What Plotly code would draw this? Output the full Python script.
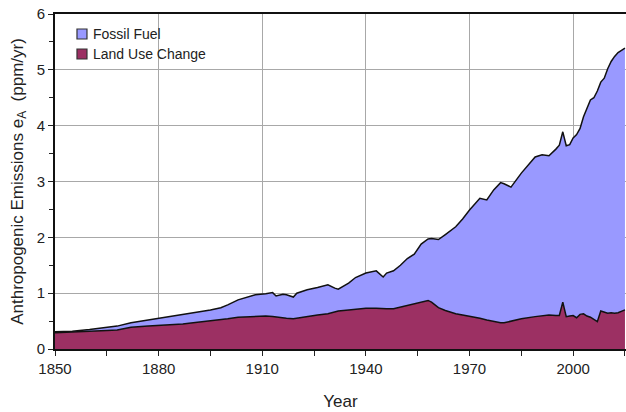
import plotly.graph_objects as go

# Anthropogenic CO2 emissions expressed as atmospheric ppm per year
years = [1850, 1855, 1860, 1865, 1868, 1872, 1877, 1883, 1887, 1890, 1895, 1898,
         1900, 1903, 1906, 1908, 1911, 1913, 1914, 1916, 1917, 1919, 1920, 1923,
         1926, 1929, 1931, 1932, 1935, 1937, 1940, 1943, 1945, 1946, 1948, 1950,
         1952, 1954, 1956, 1958, 1959, 1961, 1963, 1966, 1968, 1970, 1973, 1975,
         1977, 1979, 1980, 1982, 1985, 1989, 1991, 1993, 1995, 1996, 1997, 1998,
         1999, 2000, 2001, 2002, 2003, 2004, 2005, 2006, 2007, 2008, 2009, 2010,
         2011, 2012, 2013, 2014, 2015]

land_use_change = [0.29, 0.30, 0.31, 0.33, 0.34, 0.39, 0.41, 0.43, 0.45, 0.47, 0.50, 0.52,
                   0.54, 0.57, 0.58, 0.59, 0.59, 0.58, 0.57, 0.56, 0.55, 0.54, 0.55, 0.59,
                   0.61, 0.63, 0.66, 0.68, 0.70, 0.71, 0.73, 0.73, 0.72, 0.72, 0.72, 0.75,
                   0.78, 0.81, 0.84, 0.87, 0.84, 0.74, 0.69, 0.63, 0.61, 0.59, 0.55, 0.52,
                   0.49, 0.47, 0.47, 0.50, 0.54, 0.58, 0.60, 0.61, 0.60, 0.60, 0.84, 0.58,
                   0.59, 0.60, 0.56, 0.62, 0.63, 0.59, 0.57, 0.53, 0.49, 0.68, 0.66, 0.64,
                   0.65, 0.64, 0.65, 0.68, 0.70]

fossil_fuel = [0.02, 0.02, 0.04, 0.06, 0.07, 0.08, 0.11, 0.15, 0.16, 0.17, 0.20, 0.22,
               0.25, 0.31, 0.35, 0.38, 0.40, 0.43, 0.38, 0.42, 0.42, 0.39, 0.45, 0.47,
               0.49, 0.52, 0.43, 0.39, 0.48, 0.57, 0.63, 0.67, 0.57, 0.64, 0.68, 0.75,
               0.84, 0.89, 1.04, 1.10, 1.14, 1.22, 1.36, 1.56, 1.72, 1.90, 2.15, 2.15,
               2.36, 2.51, 2.49, 2.40, 2.61, 2.86, 2.88, 2.85, 2.98, 3.05, 3.05, 3.06,
               3.07, 3.18, 3.28, 3.33, 3.53, 3.73, 3.89, 3.97, 4.13, 4.10, 4.19, 4.38,
               4.50, 4.60, 4.66, 4.67, 4.69]

legend_labels = ["Fossil Fuel", "Land Use Change"]

FOSSIL_COLOR = "#9999FF"
LAND_COLOR = "#9C3063"
FONT = "Liberation Sans, Arial, sans-serif"

fig = go.Figure()

# Stacked areas: land use at the bottom, fossil fuel on top
fig.add_trace(go.Scatter(
    x=years, y=land_use_change, stackgroup="emissions", mode="lines",
    line=dict(color="#111111", width=1.5), fillcolor=LAND_COLOR,
    name="Land Use Change", showlegend=False,
))
fig.add_trace(go.Scatter(
    x=years, y=fossil_fuel, stackgroup="emissions", mode="lines",
    line=dict(color="#111111", width=1.5), fillcolor=FOSSIL_COLOR,
    name="Fossil Fuel", showlegend=False,
))

# Compact key in the upper-left corner: small square swatch + label
swatch_colors = [FOSSIL_COLOR, LAND_COLOR]
row_centers = [0.9403, 0.8806]   # paper y of each key row
half_h = 0.0149                   # half swatch height (paper units)
for label, color, yc in zip(legend_labels, swatch_colors, row_centers):
    fig.add_shape(
        type="rect", xref="paper", yref="paper",
        x0=0.0385, x1=0.056, y0=yc - half_h, y1=yc + half_h,
        fillcolor=color, line=dict(color="#333333", width=1.2), layer="above",
    )
    fig.add_annotation(
        x=0.063, y=yc, xref="paper", yref="paper",
        xanchor="left", yanchor="middle", showarrow=False,
        text=label, font=dict(family=FONT, size=14, color="#222222"),
    )

fig.update_layout(
    width=626, height=412,
    margin=dict(l=55, r=0, t=14, b=63),
    paper_bgcolor="white", plot_bgcolor="white",
    font=dict(family=FONT, size=15, color="#222222"),
    showlegend=False,
)

fig.update_xaxes(
    range=[1850, 2015.3], tick0=1850, dtick=30,
    ticks="outside", ticklen=5, tickwidth=1, tickcolor="#222222",
    minor=dict(dtick=15, tick0=1850, ticks="outside", ticklen=5,
               tickcolor="#222222"),
    showgrid=True, gridcolor="#a8a8a8", gridwidth=1,
    showline=True, linecolor="#111111", linewidth=1.6, mirror=True,
    zeroline=False,
    title=dict(text="Year", font=dict(family=FONT, size=17), standoff=19),
    tickfont=dict(family=FONT, size=15),
)

fig.update_yaxes(
    range=[0, 6], dtick=1,
    ticks="outside", ticklen=5, tickwidth=1, tickcolor="#222222",
    minor=dict(dtick=0.5, ticks="outside", ticklen=4, tickcolor="#222222"),
    showgrid=True, gridcolor="#a8a8a8", gridwidth=1,
    showline=True, linecolor="#111111", linewidth=1.6,
    zeroline=False,
    title=dict(text="Anthropogenic Emissions e<sub>A</sub>  (ppm/yr)",
               font=dict(family=FONT, size=17), standoff=9),
    tickfont=dict(family=FONT, size=15),
)

fig.write_html("out.html")
